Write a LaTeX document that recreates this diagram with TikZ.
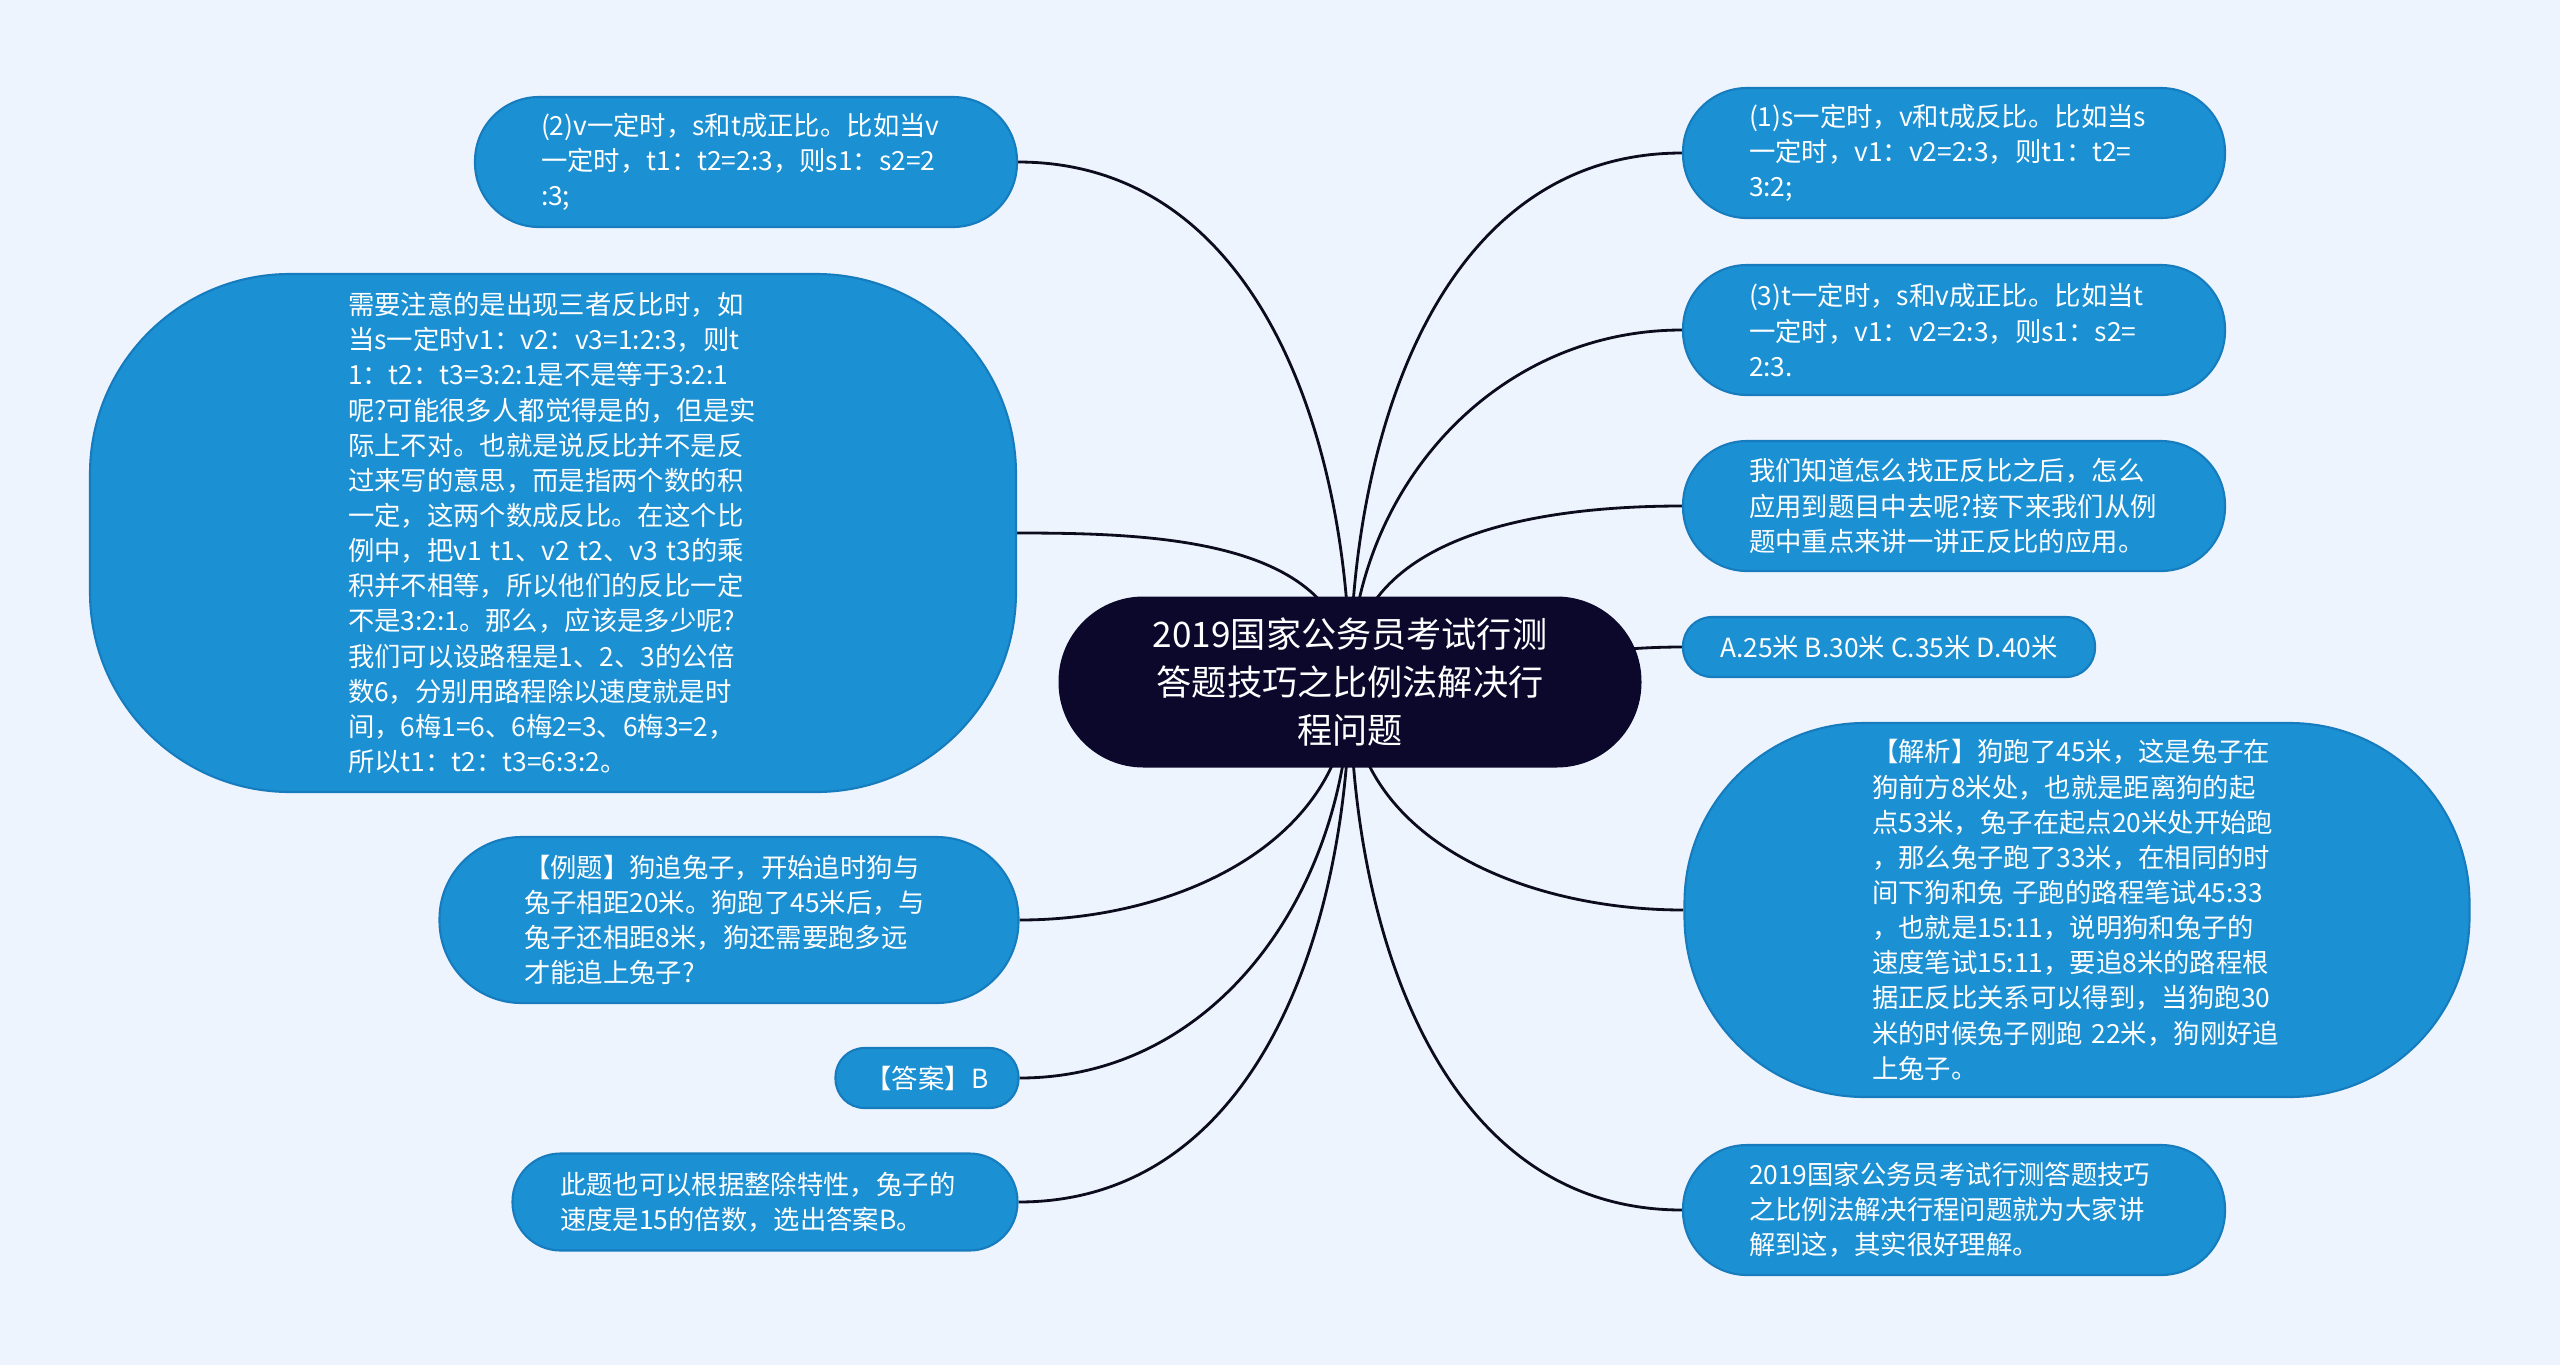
\documentclass[tikz,border=0pt]{standalone}
\usepackage{fontspec}
\newfontfamily\cjk{Noto Sans CJK SC}
\usepackage{xcolor}
\usepackage{tikz}
\usetikzlibrary{calc,positioning}

\definecolor{pagebg}{RGB}{238,244,253}
\definecolor{leafblue}{RGB}{27,144,211}
\definecolor{leafline}{RGB}{22,124,190}
\definecolor{topicnavy}{RGB}{11,8,44}
\definecolor{linkdark}{RGB}{12,12,30}

\pgfdeclarelayer{behind}
\pgfsetlayers{behind,main}

\begin{document}
\begin{tikzpicture}[
  line cap=round,
  line join=round,
  link/.style={linkdark,line width=0.8pt},
  topic/.style={fill=topicnavy,text=white,align=center,inner sep=0pt,
    font=\cjk\fontsize{10pt}{13.7pt}\selectfont,
    minimum width=5.83cm,minimum height=1.71cm,rounded corners=0.85cm},
  bubble/.style={fill=leafblue,draw=leafline,line width=0.6pt,text=white,
    inner sep=0pt,font=\cjk\fontsize{7.5pt}{10pt}\selectfont},
  leaf/.style={bubble,align=left,text width=4.1cm},
  pill/.style={leaf,minimum width=5.42cm,minimum height=1.30cm,
    rounded corners=0.64cm},
  tag/.style={bubble,align=center,minimum height=0.60cm,
    rounded corners=0.29cm}
]
\path[use as bounding box] (0,0) rectangle (25.6,-13.65);
\begin{pgfonlayer}{behind}
  \fill[pagebg] (0,0) rectangle (25.6,-13.65);
\end{pgfonlayer}

% central topic
\node[topic] (topic) at (13.50,-6.82)
  {2019国家公务员考试行测\\答题技巧之比例法解决行\\程问题};
\coordinate (hub) at (topic.center);

% left branches
\node[pill] (l1) at (7.46,-1.62)
  {(2)v一定时，s和t成正比。比如当v\\一定时，t1：t2=2:3，则s1：s2=2\\:3;};
\node[leaf,minimum width=9.26cm,minimum height=5.18cm,
  rounded corners=2.0cm] (l2) at (5.53,-5.33)
  {需要注意的是出现三者反比时，如\\当s一定时v1：v2：v3=1:2:3，则t\\1：t2：t3=3:2:1是不是等于3:2:1\\呢?可能很多人都觉得是的，但是实\\际上不对。也就是说反比并不是反\\过来写的意思，而是指两个数的积\\一定，这两个数成反比。在这个比\\例中，把v1 t1、v2 t2、v3 t3的乘\\积并不相等，所以他们的反比一定\\不是3:2:1。那么，应该是多少呢?\\我们可以设路程是1、2、3的公倍\\数6，分别用路程除以速度就是时\\间，6梅1=6、6梅2=3、6梅3=2，\\所以t1：t2：t3=6:3:2。};
\node[leaf,minimum width=5.79cm,minimum height=1.66cm,
  rounded corners=0.82cm] (l3) at (7.29,-9.20)
  {【例题】狗追兔子，开始追时狗与\\兔子相距20米。狗跑了45米后，与\\兔子还相距8米，狗还需要跑多远\\才能追上兔子?};
\node[tag,minimum width=1.83cm] (l4) at (9.27,-10.78) {【答案】B};
\node[leaf,minimum width=5.05cm,minimum height=0.97cm,
  rounded corners=0.48cm] (l5) at (7.65,-12.02)
  {此题也可以根据整除特性，兔子的\\速度是15的倍数，选出答案B。};

% right branches
\node[pill] (r1) at (19.54,-1.53)
  {(1)s一定时，v和t成反比。比如当s\\一定时，v1：v2=2:3，则t1：t2=\\3:2;};
\node[pill] (r2) at (19.54,-3.30)
  {(3)t一定时，s和v成正比。比如当t\\一定时，v1：v2=2:3，则s1：s2=\\2:3.};
\node[pill] (r3) at (19.54,-5.06)
  {我们知道怎么找正反比之后，怎么\\应用到题目中去呢?接下来我们从例\\题中重点来讲一讲正反比的应用。};
\node[tag,minimum width=4.12cm] (r4) at (18.89,-6.47)
  {A.25米 B.30米 C.35米 D.40米};
\node[leaf,minimum width=7.85cm,minimum height=3.74cm,
  rounded corners=1.8cm] (r5) at (20.77,-9.10)
  {【解析】狗跑了45米，这是兔子在\\狗前方8米处，也就是距离狗的起\\点53米，兔子在起点20米处开始跑\\，那么兔子跑了33米，在相同的时\\间下狗和兔 子跑的路程笔试45:33\\，也就是15:11，说明狗和兔子的\\速度笔试15:11，要追8米的路程根\\据正反比关系可以得到，当狗跑30\\米的时候兔子刚跑 22米，狗刚好追\\上兔子。};
\node[pill] (r6) at (19.54,-12.10)
  {2019国家公务员考试行测答题技巧\\之比例法解决行程问题就为大家讲\\解到这，其实很好理解。};

% connectors, behind the nodes
\begin{pgfonlayer}{behind}
  \draw[link] (hub) to[out=90,in=0] (l1.east);
  \draw[link] (hub) to[out=90,in=0] (l2.east);
  \draw[link] (hub) to[out=270,in=0] (l3.east);
  \draw[link] (hub) to[out=270,in=0] (l4.east);
  \draw[link] (hub) to[out=270,in=0] (l5.east);
  \draw[link] (hub) to[out=90,in=180] (r1.west);
  \draw[link] (hub) to[out=90,in=180] (r2.west);
  \draw[link] (hub) to[out=90,in=180] (r3.west);
  \draw[link] (hub) to[out=0,in=180] (r4.west);
  \draw[link] (hub) to[out=270,in=180] (r5.west);
  \draw[link] (hub) to[out=270,in=180] (r6.west);
\end{pgfonlayer}
\end{tikzpicture}
\end{document}
